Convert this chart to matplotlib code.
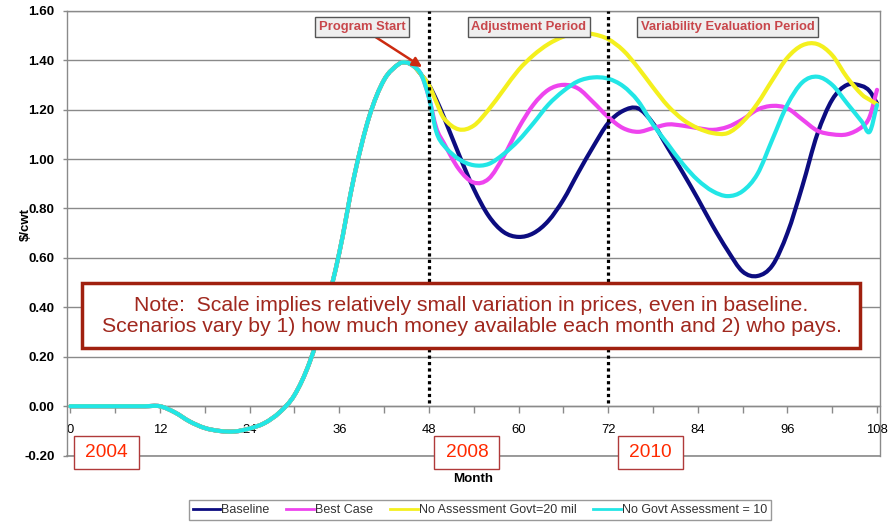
import numpy as np
import matplotlib
matplotlib.use("Agg")
import matplotlib.pyplot as plt
from matplotlib.path import Path
from matplotlib.patches import PathPatch, Rectangle
from matplotlib.lines import Line2D

plt.rcParams['font.family'] = ['Liberation Sans', 'DejaVu Sans']

# ── Data ──────────────────────────────────────────────────────────────────────
# common path before the program starts (all scenarios identical)
PRE_MONTHS = [0, 10, 12, 14, 16, 18, 20, 22, 24, 26, 28, 30, 32, 34, 36, 38,
              40, 42, 44, 45, 46, 47]
PRE_PRICE = [0.0, 0.0, 0.0, -0.025, -0.062, -0.088, -0.100, -0.102, -0.090,
             -0.068, -0.025, 0.045, 0.175, 0.370, 0.620, 0.930, 1.170, 1.320,
             1.385, 1.390, 1.375, 1.340]

# scenario paths from month 47 on
POST_MONTHS = [47, 48, 49, 50, 52, 54, 56, 58, 60, 62, 64, 66, 68, 70, 72, 74,
               76, 78, 80, 82, 84, 86, 88, 90, 92, 94, 96, 98, 100, 102, 104,
               106, 107, 108]
BASELINE = [1.34, 1.30, 1.24, 1.17, 1.02, 0.88, 0.77, 0.705, 0.685, 0.70, 0.75,
            0.835, 0.945, 1.05, 1.145, 1.195, 1.205, 1.145, 1.045, 0.945, 0.84,
            0.73, 0.63, 0.545, 0.527, 0.57, 0.70, 0.89, 1.10, 1.24, 1.30,
            1.295, 1.275, 1.225]
BEST_CASE = [1.34, 1.25, 1.125, 1.065, 0.96, 0.905, 0.92, 1.01, 1.125, 1.22,
             1.28, 1.30, 1.285, 1.23, 1.17, 1.125, 1.11, 1.125, 1.14, 1.135,
             1.125, 1.118, 1.13, 1.16, 1.20, 1.215, 1.205, 1.16, 1.115, 1.10,
             1.10, 1.13, 1.17, 1.28]
NO_ASSESS_20 = [1.34, 1.30, 1.23, 1.165, 1.12, 1.135, 1.20, 1.28, 1.36, 1.42,
                1.465, 1.495, 1.51, 1.505, 1.485, 1.44, 1.37, 1.29, 1.215,
                1.16, 1.125, 1.105, 1.105, 1.15, 1.225, 1.32, 1.41, 1.46,
                1.465, 1.42, 1.33, 1.26, 1.24, 1.222]
NO_GOVT_10 = [1.34, 1.25, 1.11, 1.055, 1.0, 0.975, 0.98, 1.02, 1.075, 1.145,
              1.22, 1.275, 1.315, 1.33, 1.325, 1.295, 1.235, 1.14, 1.06, 0.98,
              0.915, 0.87, 0.85, 0.87, 0.94, 1.08, 1.22, 1.31, 1.333, 1.30,
              1.225, 1.15, 1.11, 1.218]

SERIES = [("Baseline", BASELINE, '#0c0c80'),
          ("Best Case", BEST_CASE, '#ee44ee'),
          ("No Assessment Govt=20 mil", NO_ASSESS_20, '#f4f01e'),
          ("No Govt Assessment = 10", NO_GOVT_10, '#22e6e6')]

PERIOD_LINES = [48, 72]
YEAR_MARKS = [(4.8, "2004"), (53.1, "2008"), (77.7, "2010")]
NOTE = ("Note:  Scale implies relatively small variation in prices, even in baseline.\n"
        "Scenarios vary by 1) how much money available each month and 2) who pays.")


def smooth_path(x, y):
    """Cubic Hermite curve through the points (Excel-style smoothed line)."""
    x = np.asarray(x, float); y = np.asarray(y, float)
    n = len(x)
    m = np.empty(n)
    m[0] = (y[1] - y[0]) / (x[1] - x[0])
    m[-1] = (y[-1] - y[-2]) / (x[-1] - x[-2])
    m[1:-1] = (y[2:] - y[:-2]) / (x[2:] - x[:-2])
    verts, codes = [(x[0], y[0])], [Path.MOVETO]
    for i in range(n - 1):
        h = x[i + 1] - x[i]
        verts += [(x[i] + h / 3, y[i] + m[i] * h / 3),
                  (x[i + 1] - h / 3, y[i + 1] - m[i + 1] * h / 3),
                  (x[i + 1], y[i + 1])]
        codes += [Path.CURVE4] * 3
    return Path(verts, codes)


# ── Figure ────────────────────────────────────────────────────────────────────
fig = plt.figure(figsize=(8.91, 5.24), dpi=100)
ax = fig.add_axes([67 / 891, 68.3 / 524, 813 / 891, 445 / 524])
ax.set_xlim(-0.45, 108.4)
ax.set_ylim(-0.2, 1.6)

frame = '#8a8a8a'
ax.set_yticks(np.arange(-0.2, 1.61, 0.2))
ax.set_yticklabels([f"{v:.2f}" for v in np.arange(-0.2, 1.61, 0.2)])
ax.set_xticks(range(0, 109, 12))
ax.set_xticks(range(6, 109, 12), minor=True)
ax.tick_params(axis='y', length=3, width=1, color=frame, pad=6,
               labelsize=9.6, direction='out')
ax.tick_params(axis='x', which='both', length=5, width=1, color=frame,
               pad=8, labelsize=9.4, direction='out')
for lab in ax.get_xticklabels() + ax.get_yticklabels():
    lab.set_fontweight('bold')

ax.spines['bottom'].set_position(('data', 0))
for s in ax.spines.values():
    s.set_color(frame); s.set_linewidth(1)
ax.axhline(-0.2, color=frame, lw=1.2, clip_on=False, zorder=1)
ax.yaxis.grid(True, color=frame, lw=1)
ax.set_axisbelow(True)

# curves
for name, vals, col in SERIES:
    xs = PRE_MONTHS + POST_MONTHS[1:]
    ys = PRE_PRICE + vals[1:]
    ax.add_patch(PathPatch(smooth_path(xs, ys), fill=False, edgecolor=col,
                           lw=3.0, capstyle='round', joinstyle='round',
                           zorder=3))

for m in PERIOD_LINES:
    ax.vlines(m, 0.015, 1.6, colors='black', lw=2.3, linestyles=(0, (1, 1)),
              zorder=4)

ax.set_ylabel("$/cwt", fontsize=9.5, fontweight='bold')
ax.yaxis.set_label_coords(-0.043, 0.52)
ax.text(0.5, -0.04, "Month", transform=ax.transAxes, ha='center', va='top',
        fontsize=9.6, fontweight='bold')

# period labels
lab_kw = dict(ha='center', va='center', fontsize=9.4, fontweight='bold',
              color='#c8464b', zorder=6,
              bbox=dict(boxstyle='square,pad=0.28', fc='#efefef', ec='#555555',
                        lw=1))
ax.annotate("Program Start", xy=(47.1, 1.372), xytext=(39.1, 1.534),
            arrowprops=dict(arrowstyle='-|>,head_length=0.6,head_width=0.3',
                            color='#cc2a10', lw=1.8, shrinkA=0, shrinkB=0,
                            relpos=(0.58, 0.0)),
            **lab_kw)
ax.text(61.4, 1.534, "Adjustment Period", **lab_kw)
ax.text(88.0, 1.534, "Variability Evaluation Period", **lab_kw)

# note box
ax.add_patch(Rectangle((1.55, 0.234), 104.2, 0.264, fc='white', ec='#a0200f',
                       lw=2.5, zorder=7))
ax.text(53.7, 0.366, NOTE, ha='center', va='center', fontsize=15.3,
        color='#a0281e', linespacing=1.12, zorder=8)

# year markers
for m, yr in YEAR_MARKS:
    ax.add_patch(Rectangle((m - 4.35, -0.252), 8.7, 0.13, fc='white',
                           ec='#b03a3a', lw=1, zorder=7, clip_on=False))
    ax.text(m, -0.186, yr, ha='center', va='center', fontsize=13.8,
            color='#ff2a00', zorder=8, clip_on=False)

handles = [Line2D([], [], color=c, lw=2) for _, _, c in SERIES]
leg = fig.legend(handles, [n for n, _, _ in SERIES], loc='center',
                 bbox_to_anchor=(480 / 891, 1 - 510 / 524), ncol=4,
                 fontsize=9, frameon=True, fancybox=False,
                 edgecolor='#808080', handlelength=2.2, handletextpad=0.1,
                 columnspacing=1.35, borderpad=0.3)
leg.get_frame().set_linewidth(1)
for t in leg.get_texts():
    t.set_color('#333333')

fig.savefig("out.png", dpi=100)
